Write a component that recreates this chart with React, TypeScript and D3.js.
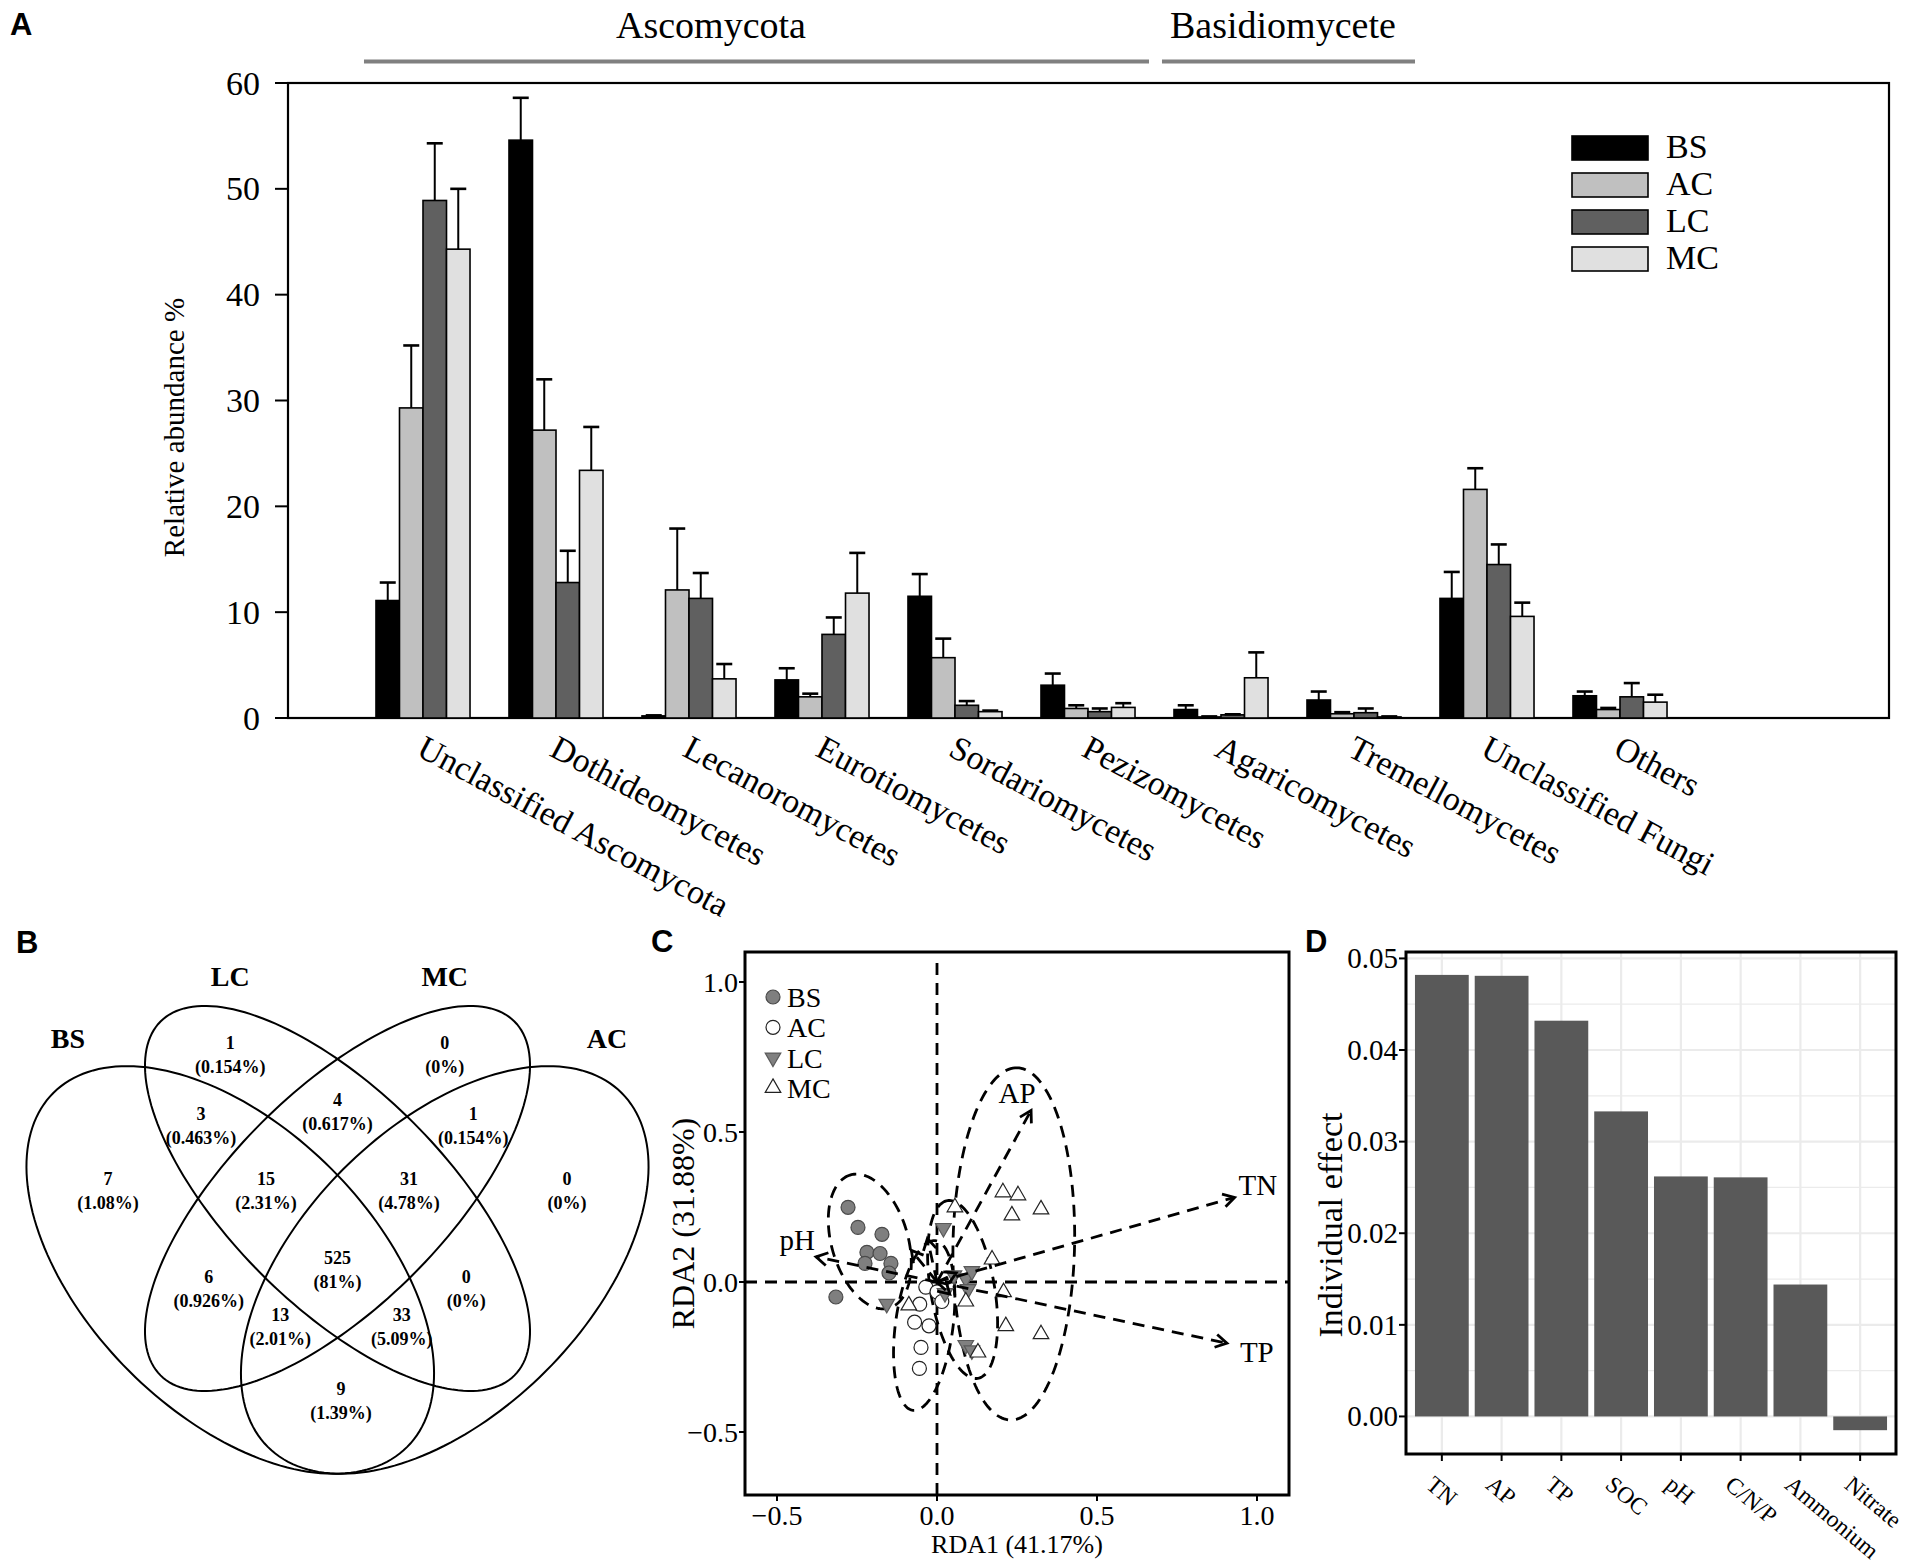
import React from 'react';
import * as d3 from 'd3';

const SERIF = '"Liberation Serif", "Times New Roman", serif';
const SANS = '"Liberation Sans", Arial, sans-serif';

// ---------- A: relative abundance of fungal classes ----------
const taxa = [
  'Unclassified Ascomycota', 'Dothideomycetes', 'Lecanoromycetes', 'Eurotiomycetes',
  'Sordariomycetes', 'Pezizomycetes', 'Agaricomycetes', 'Tremellomycetes',
  'Unclassified Fungi', 'Others',
];
const treatments = ['BS', 'AC', 'LC', 'MC'];
const meanBS = [11.1, 54.6, 0.2, 3.6, 11.5, 3.1, 0.8, 1.7, 11.3, 2.1];
const seBS = [1.7, 4.0, 0.05, 1.1, 2.1, 1.1, 0.4, 0.8, 2.5, 0.4];
const meanAC = [29.3, 27.2, 12.1, 2.0, 5.7, 0.9, 0.1, 0.4, 21.6, 0.8];
const seAC = [5.9, 4.8, 5.8, 0.3, 1.8, 0.3, 0.05, 0.15, 2.0, 0.15];
const meanLC = [48.9, 12.8, 11.3, 7.9, 1.2, 0.6, 0.3, 0.5, 14.5, 2.0];
const seLC = [5.4, 3.0, 2.4, 1.6, 0.4, 0.3, 0.05, 0.4, 1.9, 1.3];
const meanMC = [44.3, 23.4, 3.7, 11.8, 0.6, 1.0, 3.8, 0.1, 9.6, 1.5];
const seMC = [5.7, 4.1, 1.4, 3.8, 0.1, 0.4, 2.4, 0.05, 1.3, 0.7];
const abundance = [meanBS, meanAC, meanLC, meanMC];
const abundanceSE = [seBS, seAC, seLC, seMC];
const treatFill = ['#000000', '#c0c0c0', '#606060', '#e0e0e0'];
const abundanceTicks = [0, 10, 20, 30, 40, 50, 60];
const phyla = ['Ascomycota', 'Basidiomycete'];
const phylumFirst = [0, 6];
const phylumLast = [5, 7];

// ---------- B: Venn diagram ----------
const vennSets = ['BS', 'LC', 'MC', 'AC'];
const vennCx = [0.35, 0.5, 0.5, 0.65];
const vennCy = [0.47, 0.57, 0.57, 0.47];
const vennA = [0.35, 0.35, 0.35, 0.35];
const vennB = [0.2, 0.15, 0.15, 0.2];
const vennRot = [135, 135, 45, 45];
const vennSetX = [0.123, 0.35, 0.65, 0.877];
const vennSetY = [0.794, 0.88, 0.88, 0.794];
const vennCounts = ['7', '1', '0', '0', '3', '4', '1', '15', '31', '525', '6', '0', '13', '33', '9'];
const vennPct = ['1.08%', '0.154%', '0%', '0%', '0.463%', '0.617%', '0.154%', '2.31%', '4.78%', '81%', '0.926%', '0%', '2.01%', '5.09%', '1.39%'];
const vennAreaX = [0.179, 0.35, 0.65, 0.821, 0.309, 0.5, 0.69, 0.4, 0.6, 0.5, 0.32, 0.68, 0.42, 0.59, 0.505];
const vennAreaY = [0.58, 0.771, 0.771, 0.58, 0.671, 0.691, 0.671, 0.58, 0.58, 0.47, 0.443, 0.443, 0.39, 0.39, 0.287];

// ---------- C: RDA ----------
const rdaTicks = [-0.5, 0, 0.5, 1.0];
const bsRda1 = [-0.278, -0.247, -0.172, -0.219, -0.178, -0.144, -0.225, -0.316, -0.15];
const bsRda2 = [0.249, 0.182, 0.159, 0.099, 0.095, 0.062, 0.062, -0.05, 0.03];
const acRda1 = [-0.035, 0.0, -0.054, 0.015, -0.07, -0.025, -0.05, -0.055];
const acRda2 = [-0.017, -0.033, -0.074, -0.065, -0.134, -0.146, -0.218, -0.288];
const lcRda1 = [0.02, 0.053, 0.09, 0.109, 0.097, 0.025, 0.09, 0.109, -0.157];
const lcRda2 = [0.18, 0.022, 0.012, 0.036, -0.024, -0.037, -0.21, -0.228, -0.073];
const mcRda1 = [0.056, 0.206, 0.253, 0.234, 0.325, 0.172, 0.09, 0.208, 0.325, 0.215, 0.128, -0.088];
const mcRda2 = [0.249, 0.299, 0.289, 0.222, 0.242, 0.075, -0.065, -0.034, -0.174, -0.147, -0.235, -0.078];
const envVars = ['AP', 'TN', 'TP', 'pH', 'SOC', 'C/N/P', 'Ammonium', 'Nitrate'];
const envRda1 = [0.294, 0.93, 0.906, -0.378, -0.08, -0.03, 0.06, 0.04];
const envRda2 = [0.572, 0.282, -0.204, 0.084, 0.105, 0.145, 0.03, -0.04];
const envLabelled = ['AP', 'TN', 'TP', 'pH'];
const ellCx = [-0.21, -0.04, 0.08, 0.24];
const ellCy = [0.135, -0.145, -0.025, 0.127];
const ellA = [0.23, 0.285, 0.3, 0.587];
const ellB = [0.12, 0.09, 0.1, 0.19];
const ellRot = [104.5, 83, 99, 89];

// ---------- D: individual effect ----------
const predictors = ['TN', 'AP', 'TP', 'SOC', 'pH', 'C/N/P', 'Ammonium', 'Nitrate'];
const individualEffect = [0.0482, 0.0481, 0.0432, 0.0333, 0.0262, 0.0261, 0.0144, -0.0015];
const effectTicks = [0, 0.01, 0.02, 0.03, 0.04, 0.05];
const effectMinor = [0.005, 0.015, 0.025, 0.035, 0.045];

const rad = (d: number) => (d * Math.PI) / 180;

function ellipsePts(cx: number, cy: number, a: number, b: number, rot: number,
  sx: (v: number) => number, sy: (v: number) => number) {
  const th = rad(rot);
  return d3.range(0, 360, 2).map((deg) => {
    const t = rad(deg);
    const x = cx + a * Math.cos(t) * Math.cos(th) - b * Math.sin(t) * Math.sin(th);
    const y = cy + a * Math.cos(t) * Math.sin(th) + b * Math.sin(t) * Math.cos(th);
    return [sx(x), sy(y)] as [number, number];
  });
}
const closedLine = d3.line().curve(d3.curveLinearClosed);

function PanelA() {
  const x = d3.scaleBand().domain(taxa).range([356.5, 1686.5]).paddingInner(0.293).paddingOuter(0.1465);
  const xi = d3.scaleBand().domain(treatments).range([0, x.bandwidth()]);
  const y = d3.scaleLinear().domain([0, 60]).range([718, 83]);
  const left = 288, right = 1889;
  return (
    <g>
      <text x={10} y={35} fontFamily={SANS} fontWeight="bold" fontSize={31}>A</text>
      {phyla.map((p, k) => {
        const x1 = (x(taxa[phylumFirst[k]]) as number) - 12;
        const x2 = (x(taxa[phylumLast[k]]) as number) + x.bandwidth() + 14;
        return (
          <g key={p}>
            <line x1={x1} x2={x2} y1={61.5} y2={61.5} stroke="#808080" strokeWidth={4} />
            <text x={k === 0 ? x1 + 252 : x1 + 8} y={38} fontFamily={SERIF} fontSize={38}>{p}</text>
          </g>
        );
      })}
      <rect x={left} y={y(60)} width={right - left} height={y(0) - y(60)} fill="none" stroke="#000" strokeWidth={2.2} />
      {abundanceTicks.map((t) => (
        <g key={t}>
          <line x1={left - 13} x2={left} y1={y(t)} y2={y(t)} stroke="#000" strokeWidth={2} />
          <text x={left - 28} y={y(t)} dy="0.34em" textAnchor="end" fontFamily={SERIF} fontSize={34}>{t}</text>
        </g>
      ))}
      <text transform={`translate(174,${(y(0) + y(60)) / 2 + 27}) rotate(-90)`} textAnchor="middle"
        dy="0.34em" fontFamily={SERIF} fontSize={29}>Relative abundance %</text>
      {taxa.map((t, i) => (
        <g key={t}>
          {treatments.map((tr, j) => {
            const v = abundance[j][i];
            const e = abundanceSE[j][i];
            const bx = (x(t) as number) + (xi(tr) as number);
            const cx = bx + xi.bandwidth() / 2;
            return (
              <g key={tr}>
                <rect x={bx} y={y(v)} width={xi.bandwidth()} height={y(0) - y(v)}
                  fill={treatFill[j]} stroke="#000" strokeWidth={1.6} />
                <line x1={cx} x2={cx} y1={y(v)} y2={y(v + e)} stroke="#000" strokeWidth={2} />
                <line x1={cx - 8} x2={cx + 8} y1={y(v + e)} y2={y(v + e)} stroke="#000" strokeWidth={2.6} />
              </g>
            );
          })}
          <text transform={`translate(${(x(t) as number) + x.bandwidth() / 2 - 8},755) rotate(28)`}
            fontFamily={SERIF} fontSize={34}>{t}</text>
        </g>
      ))}
      {treatments.map((tr, j) => (
        <g key={tr}>
          <rect x={1572} y={136 + j * 37} width={76} height={24} fill={treatFill[j]} stroke="#000" strokeWidth={1.6} />
          <text x={1666} y={136 + j * 37 + 22} fontFamily={SERIF} fontSize={34}>{tr}</text>
        </g>
      ))}
    </g>
  );
}

function PanelB() {
  const vx = d3.scaleLinear().domain([0, 1]).range([-20, 695]);
  const vy = d3.scaleLinear().domain([0, 1]).range([1606, 891]);
  return (
    <g>
      <text x={16} y={953} fontFamily={SANS} fontWeight="bold" fontSize={31}>B</text>
      {vennSets.map((s, k) => (
        <g key={s}>
          <path d={closedLine(ellipsePts(vennCx[k], vennCy[k], vennA[k], vennB[k], vennRot[k], vx, vy)) as string}
            fill="none" stroke="#000" strokeWidth={2} />
          <text x={vx(vennSetX[k])} y={vy(vennSetY[k])} dy="0.34em" textAnchor="middle"
            fontFamily={SERIF} fontWeight="bold" fontSize={28}>{s}</text>
        </g>
      ))}
      {vennCounts.map((c, k) => (
        <g key={k} fontFamily={SERIF} fontWeight="bold" fontSize={18} textAnchor="middle">
          <text x={vx(vennAreaX[k])} y={vy(vennAreaY[k]) - 12} dy="0.34em">{c}</text>
          <text x={vx(vennAreaX[k])} y={vy(vennAreaY[k]) + 12} dy="0.34em">({vennPct[k]})</text>
        </g>
      ))}
    </g>
  );
}

function arrowHead(x1: number, y1: number, x2: number, y2: number, len = 13) {
  const ang = Math.atan2(y2 - y1, x2 - x1);
  const a1 = ang + Math.PI - rad(30);
  const a2 = ang + Math.PI + rad(30);
  return `M${x2 + len * Math.cos(a1)},${y2 + len * Math.sin(a1)}L${x2},${y2}L${x2 + len * Math.cos(a2)},${y2 + len * Math.sin(a2)}`;
}

const envLabelOffset: Record<string, [number, number, string]> = {
  AP: [-14, -7, 'middle'],
  TN: [4, -2, 'start'],
  TP: [13, 19, 'start'],
  pH: [-1, -7, 'end'],
};

function PanelC() {
  const L = 745, R = 1289, T = 952, B = 1495;
  const x = d3.scaleLinear().domain([-0.6, 1.1]).range([L, R]);
  const y = d3.scaleLinear().domain([-0.71, 1.1]).range([B, T]);
  const tri = d3.symbol(d3.symbolTriangle, 105)() as string;
  const dash = '12 8';
  const fmt = d3.format('.1f');
  const ox = x(0), oy = y(0);
  const groups = [
    { name: 'BS', xs: bsRda1, ys: bsRda2 },
    { name: 'AC', xs: acRda1, ys: acRda2 },
    { name: 'LC', xs: lcRda1, ys: lcRda2 },
    { name: 'MC', xs: mcRda1, ys: mcRda2 },
  ];
  const marker = (name: string, px: number, py: number, key: React.Key) => {
    if (name === 'BS') return <circle key={key} cx={px} cy={py} r={7} fill="#7f7f7f" stroke="#4a4a4a" strokeWidth={1.2} />;
    if (name === 'AC') return <circle key={key} cx={px} cy={py} r={7} fill="#fff" stroke="#222" strokeWidth={1.2} />;
    if (name === 'LC') return <path key={key} d={tri} transform={`translate(${px},${py}) rotate(180)`} fill="#808080" stroke="#5a5a5a" strokeWidth={1.2} />;
    return <path key={key} d={tri} transform={`translate(${px},${py})`} fill="#fff" stroke="#222" strokeWidth={1.2} />;
  };
  return (
    <g>
      <text x={651} y={952} fontFamily={SANS} fontWeight="bold" fontSize={31}>C</text>
      <line x1={ox} x2={ox} y1={963} y2={B} stroke="#000" strokeWidth={2.8} strokeDasharray={dash} />
      <line x1={L} x2={R} y1={oy} y2={oy} stroke="#000" strokeWidth={2.8} strokeDasharray={dash} />
      {groups.map((g, k) => (
        <path key={g.name} d={closedLine(ellipsePts(ellCx[k], ellCy[k], ellA[k], ellB[k], ellRot[k], x, y)) as string}
          fill="none" stroke="#000" strokeWidth={2.8} strokeDasharray={dash} />
      ))}
      {groups.map((g) => g.xs.map((v, i) => marker(g.name, x(v), y(g.ys[i]), g.name + i)))}
      {envVars.map((v, i) => {
        const tx = x(envRda1[i]), ty = y(envRda2[i]);
        const off = envLabelOffset[v];
        return (
          <g key={v}>
            <line x1={ox} y1={oy} x2={tx} y2={ty} stroke="#000" strokeWidth={2.8} strokeDasharray={dash} />
            <path d={arrowHead(ox, oy, tx, ty)} fill="none" stroke="#000" strokeWidth={2.8} />
            {envLabelled.includes(v) && off && (
              <text x={tx + off[0]} y={ty + off[1]} textAnchor={off[2]} fontFamily={SERIF} fontSize={29}>{v}</text>
            )}
          </g>
        );
      })}
      <rect x={L} y={T} width={R - L} height={B - T} fill="none" stroke="#000" strokeWidth={3} />
      {rdaTicks.map((t) => (
        <g key={t} fontFamily={SERIF} fontSize={28}>
          <line x1={L - 6} x2={L} y1={y(t)} y2={y(t)} stroke="#000" strokeWidth={2} />
          <text x={L - 7} y={y(t)} dy="0.34em" textAnchor="end">{fmt(t)}</text>
          <line x1={x(t)} x2={x(t)} y1={B} y2={B + 6} stroke="#000" strokeWidth={2} />
          <text x={x(t)} y={B + 30} textAnchor="middle">{fmt(t)}</text>
        </g>
      ))}
      <text x={(L + R) / 2} y={B + 58} textAnchor="middle" fontFamily={SERIF} fontSize={26}>RDA1 (41.17%)</text>
      <text transform={`translate(683,${(T + B) / 2}) rotate(-90)`} dy="0.34em" textAnchor="middle"
        fontFamily={SERIF} fontSize={32}>RDA2 (31.88%)</text>
      {treatments.map((tr, j) => (
        <g key={tr}>
          {marker(tr, 773, 997 + j * 30.3, 'lg' + tr)}
          <text x={787} y={997 + j * 30.3 + 10} fontFamily={SERIF} fontSize={28}>{tr}</text>
        </g>
      ))}
    </g>
  );
}

function PanelD() {
  const L = 1406, R = 1896, T = 952, B = 1454;
  const x = d3.scaleBand().domain(predictors).range([L, R]).paddingInner(0.1).paddingOuter(0.15);
  const y = d3.scaleLinear().domain([-0.0041, 0.0507]).range([B, T]);
  const center = (p: string) => (x(p) as number) + x.bandwidth() / 2;
  return (
    <g>
      <text x={1305} y={952} fontFamily={SANS} fontWeight="bold" fontSize={31}>D</text>
      {effectMinor.map((t) => (
        <line key={t} x1={L} x2={R} y1={y(t)} y2={y(t)} stroke="#ebebeb" strokeWidth={1.2} />
      ))}
      {effectTicks.map((t) => (
        <line key={t} x1={L} x2={R} y1={y(t)} y2={y(t)} stroke="#ebebeb" strokeWidth={2.2} />
      ))}
      {predictors.map((p) => (
        <line key={p} x1={center(p)} x2={center(p)} y1={T} y2={B} stroke="#ebebeb" strokeWidth={2.2} />
      ))}
      {predictors.map((p, i) => {
        const v = individualEffect[i];
        return (
          <rect key={p} x={x(p)} y={Math.min(y(v), y(0))} width={x.bandwidth()}
            height={Math.abs(y(0) - y(v))} fill="#595959" />
        );
      })}
      <rect x={L} y={T} width={R - L} height={B - T} fill="none" stroke="#000" strokeWidth={3} />
      {effectTicks.map((t) => (
        <g key={t}>
          <line x1={L - 7} x2={L} y1={y(t)} y2={y(t)} stroke="#000" strokeWidth={2} />
          <text x={L - 8} y={y(t)} dy="0.34em" textAnchor="end" fontFamily={SERIF} fontSize={29}>{d3.format('.2f')(t)}</text>
        </g>
      ))}
      {predictors.map((p) => (
        <g key={p}>
          <line x1={center(p)} x2={center(p)} y1={B} y2={B + 7} stroke="#000" strokeWidth={2} />
          <text transform={`translate(${center(p) - 17},${B + 33}) rotate(40)`} fontFamily={SERIF} fontSize={23.5}>{p}</text>
        </g>
      ))}
      <text transform={`translate(1330,${(T + B) / 2 + 22}) rotate(-90)`} dy="0.34em" textAnchor="middle"
        fontFamily={SERIF} fontSize={34}>Individual effect</text>
    </g>
  );
}

export default function App() {
  return (
    <svg width={1907} height={1567} viewBox="0 0 1907 1567"
      style={{ position: 'absolute', left: 0, top: 0, background: '#fff', display: 'block' }}>
      <rect width={1907} height={1567} fill="#fff" />
      <PanelA />
      <PanelB />
      <PanelC />
      <PanelD />
    </svg>
  );
}
